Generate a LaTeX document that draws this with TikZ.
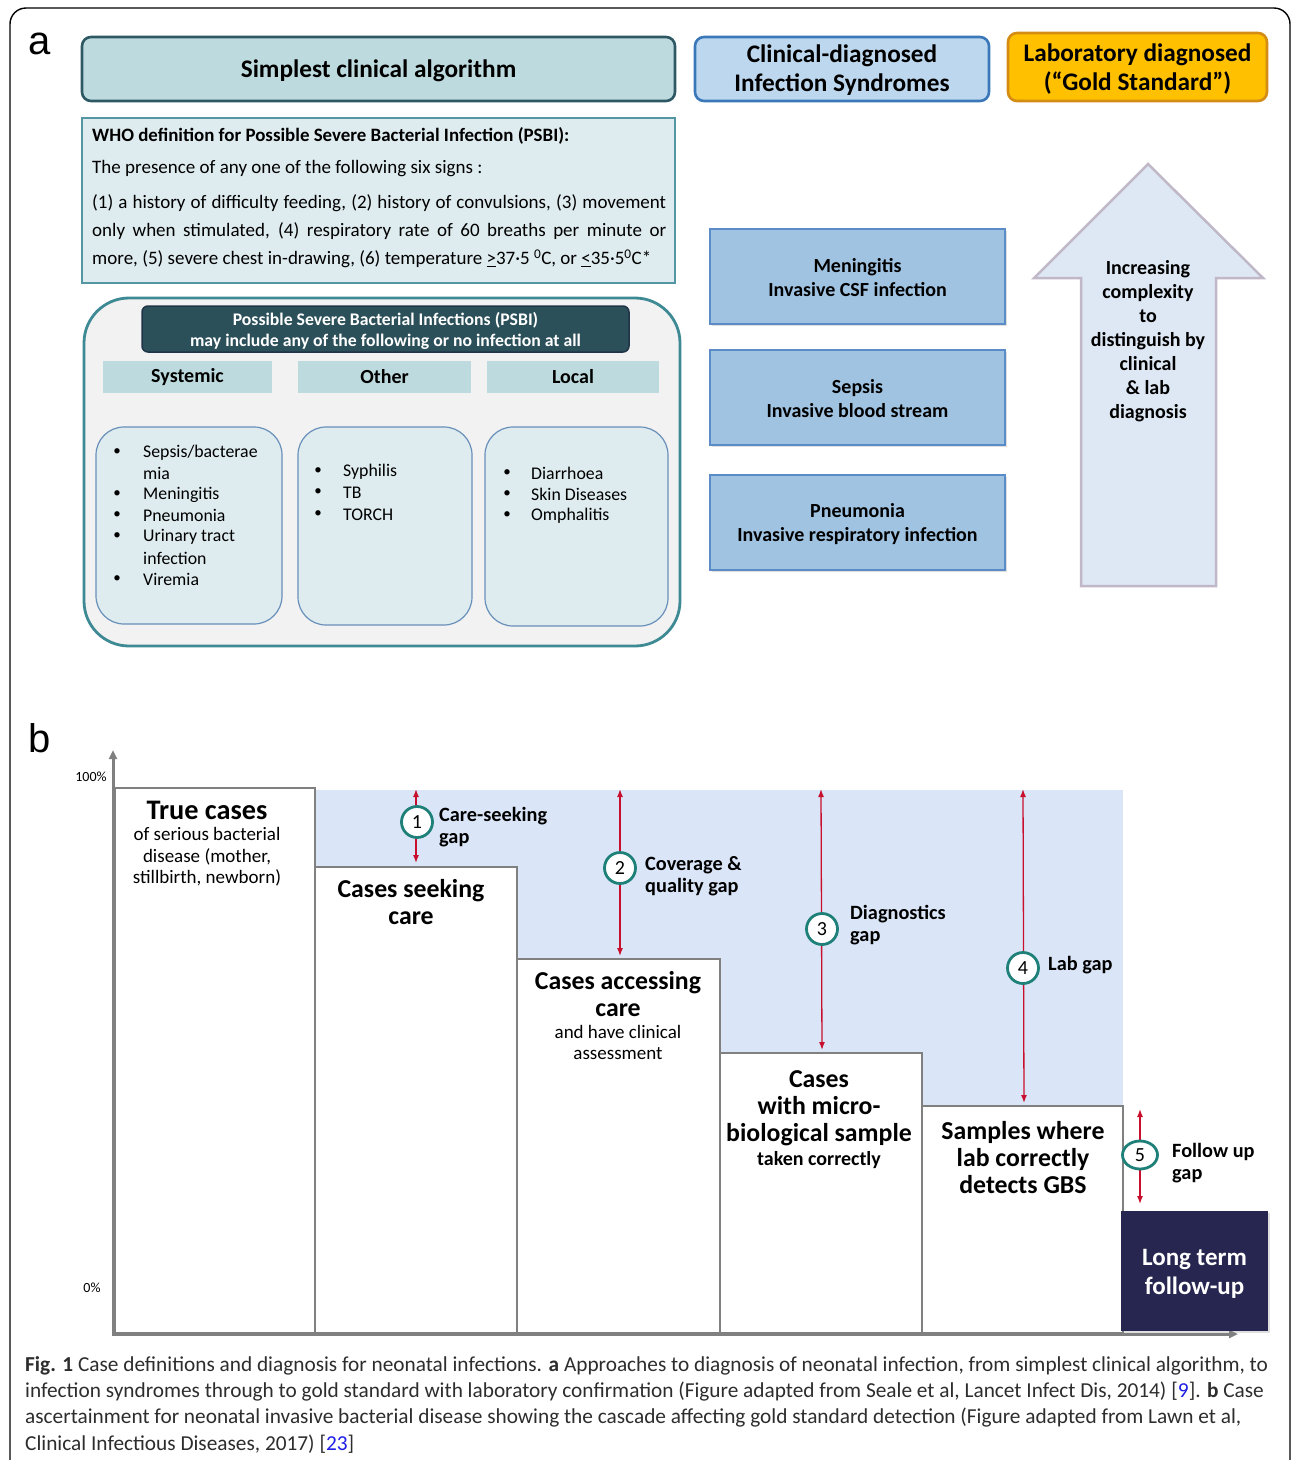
\documentclass[tikz,border=0pt]{standalone}
\usepackage{fontspec}
\setmainfont{Carlito}
\newfontfamily\arialf{Liberation Sans}
\usetikzlibrary{arrows.meta,shapes.geometric,shadows}
\definecolor{teallight}{RGB}{189,219,222}
\definecolor{tealdark}{RGB}{46,88,100}
\definecolor{whofill}{RGB}{222,235,239}
\definecolor{whoedge}{RGB}{84,150,162}
\definecolor{psbifill}{RGB}{242,242,242}
\definecolor{psbiedge}{RGB}{62,138,148}
\definecolor{darkhdr}{RGB}{44,80,90}
\definecolor{darkhdredge}{RGB}{32,52,72}
\definecolor{inneredge}{RGB}{104,144,186}
\definecolor{clinfill}{RGB}{189,215,238}
\definecolor{clinedge}{RGB}{58,120,185}
\definecolor{goldfill}{RGB}{255,192,0}
\definecolor{goldedge}{RGB}{212,140,20}
\definecolor{synfill}{RGB}{160,195,226}
\definecolor{synedge}{RGB}{92,140,200}
\definecolor{arrfill}{RGB}{222,232,244}
\definecolor{arredge}{RGB}{192,184,200}
\definecolor{bgblue}{RGB}{218,230,248}
\definecolor{bargray}{RGB}{128,128,128}
\definecolor{crimson}{RGB}{200,16,46}
\definecolor{circteal}{RGB}{30,128,120}
\definecolor{navy}{RGB}{38,38,80}
\definecolor{captext}{RGB}{45,45,45}
\definecolor{linkblue}{RGB}{30,30,230}
\tikzset{
  fs/.style 2 args={font=\fontsize{#1}{#2}\selectfont},
  fsb/.style 2 args={font=\fontsize{#1}{#2}\selectfont\bfseries},
  tx/.style={yshift=-1.5pt},
  topbox/.style={rounded corners=9pt, line width=2.6pt, inner sep=0pt, align=center, fsb={25.3}{29}},
  colhdr/.style={fill=teallight, minimum height=32pt, inner sep=0pt, fsb={20}{22}},
  innerbox/.style={draw=inneredge, line width=1.2pt, fill=whofill, rounded corners=28pt, inner sep=0pt},
  listtxt/.style={tx, anchor=west, inner sep=0pt, fs={17.8}{21}},
  bul/.style={tx, inner sep=0pt, fs={15}{21}},
  synbox/.style={draw=synedge, line width=1.5pt, fill=synfill, minimum width=295pt, minimum height=95pt, inner sep=0pt},
  syntxt/.style={tx, inner sep=0pt, align=center, fsb={20}{24}},
  barbox/.style={draw=bargray, line width=2.6pt, fill=white},
  bartitle/.style={tx, inner sep=0pt, align=center, fsb={25.8}{27}},
  barsub/.style={tx, inner sep=0pt, align=center, fs={19}{21.5}},
  gaparrow/.style={draw=crimson, line width=1.3pt, {Latex[length=8pt,width=6pt]}-{Latex[length=8pt,width=6pt]}},
  gapnum/.style={circle, draw=circteal, line width=2.8pt, fill=white, minimum size=31pt, inner sep=0pt, fs={20}{20}},
  gaplabel/.style={tx, anchor=west, inner sep=0pt, align=left, fsb={20.3}{22}},
  axis/.style={draw=bargray, line width=3pt, -{Triangle[length=9pt,width=8pt]}},
  captxt/.style={tx, anchor=west, inner sep=0pt, text=captext, fs={21.3}{24}},
  whotxt/.style={tx, anchor=west, inner sep=0pt, fs={19}{22}},
}
\begin{document}
\begin{tikzpicture}[x=1pt,y=-1pt]
\clip (0,0) rectangle (1292,1460);
\fill[white] (0,0) rectangle (1292,1460);
\draw[line width=1.4pt, rounded corners=16pt] (10,1520) -- (10,8) -- (1290,8) -- (1290,1520);

% ---------------- panel a ----------------
\node[inner sep=0pt, font=\arialf\fontsize{40}{40}\selectfont] (la) at (40,44) {a};

\node[topbox, draw=tealdark, fill=teallight, minimum width=593pt, minimum height=64pt] (simplest) at (378.5,69) {};
\node[topbox, tx] (simplestt) at (simplest) {Simplest clinical algorithm};
\node[topbox, draw=clinedge, fill=clinfill, minimum width=294pt, minimum height=64pt] (clinical) at (842,69) {};
\node[topbox, tx] (clinicalt) at (clinical) {Clinical-diagnosed\\Infection Syndromes};
\node[topbox, draw=goldedge, fill=goldfill, minimum width=259pt, minimum height=68pt] (lab) at (1137.5,67) {};
\node[topbox, tx] (labt) at (1137.5,68) {Laboratory diagnosed\\(“Gold Standard”)};

% WHO definition box
\node[draw=whoedge, line width=2pt, fill=whofill, minimum width=593pt, minimum height=165pt, inner sep=0pt] (who) at (378.5,200.5) {};
\node[whotxt, fsb={18.9}{22}] (whot) at (92,134) {WHO definition for Possible Severe Bacterial Infection (PSBI):};
\node[whotxt] (whop) at (92,167) {The presence of any one of the following six signs :};
\node[whotxt] (whol1) at (92,202) {\makebox[574pt][s]{(1) a history of difficulty feeding, (2) history of convulsions, (3) movement}};
\node[whotxt] (whol2) at (92,230) {\makebox[574pt][s]{only when stimulated, (4) respiratory rate of 60 breaths per minute or}};
\node[whotxt] (whol3) at (92,257) {more, (5) severe chest in-drawing, (6) temperature \underline{>}37·5 \textsuperscript{0}C, or \underline{<}35·5\textsuperscript{0}C*};

% PSBI container
\node[draw=psbiedge, line width=2.8pt, fill=psbifill, rounded corners=45pt, minimum width=596pt, minimum height=348pt, inner sep=0pt] (psbi) at (382,472) {};
\node[draw=darkhdredge, line width=1.5pt, fill=darkhdr, rounded corners=6pt, minimum width=487pt, minimum height=46pt, inner sep=0pt] (psbihdr) at (385.5,329) {};
\node[tx, inner sep=0pt, text=white, align=center, fsb={17.7}{21}] (psbihdrt) at (psbihdr) {Possible Severe Bacterial Infections (PSBI)\\may include any of the following or no infection at all};
\node[colhdr, minimum width=169pt] (sys) at (187.5,377) {Systemic};
\node[colhdr, minimum width=173pt] (oth) at (384.5,377) {Other};
\node[colhdr, minimum width=172pt] (loc) at (573,377) {Local};
\node[innerbox, minimum width=186pt, minimum height=197pt] (sysbox) at (189,525.5) {};
\node[innerbox, minimum width=174pt, minimum height=198pt] (othbox) at (385,526) {};
\node[innerbox, minimum width=183pt, minimum height=199pt] (locbox) at (576.5,526.5) {};

\foreach \y/\t [count=\i] in {451/Sepsis\slash bacterae, 472/mia, 493/Meningitis, 514/Pneumonia, 535/Urinary tract, 557/infection, 578/Viremia}
  \node[listtxt] (syst\i) at (143,\y) {\t};
\foreach \y [count=\i] in {451,493,514,535,578}
  \node[bul] (sysb\i) at (117,\y) {\textbullet};
\foreach \y/\t [count=\i] in {470/Syphilis, 491/TB, 513/TORCH}
  {\node[listtxt] (otht\i) at (343,\y) {\t};
   \node[bul] (othb\i) at (318,\y) {\textbullet};}
\foreach \y/\t [count=\i] in {472/Diarrhoea, 493/Skin Diseases, 514/Omphalitis}
  {\node[listtxt] (loct\i) at (531,\y) {\t};
   \node[bul] (locb\i) at (507,\y) {\textbullet};}

% syndromes
\node[synbox, drop shadow={shadow xshift=2pt, shadow yshift=-2pt, opacity=0.25}] (men) at (857.5,276.5) {};
\node[syntxt] (ment) at (men) {Meningitis\\Invasive CSF infection};
\node[synbox, drop shadow={shadow xshift=2pt, shadow yshift=-2pt, opacity=0.25}] (sep) at (857.5,397.5) {};
\node[syntxt] (sept) at (sep) {Sepsis\\Invasive blood stream};
\node[synbox, drop shadow={shadow xshift=2pt, shadow yshift=-2pt, opacity=0.25}] (pne) at (857.5,522.5) {};
\node[syntxt] (pnet) at (pne) {Pneumonia\\Invasive respiratory infection};

% big arrow
\draw[draw=arredge, line width=2.5pt, fill=arrfill, line join=miter]
  (1148,164) -- (1263,278) -- (1216,278) -- (1216,586) -- (1081,586) -- (1081,278) -- (1034,278) -- cycle;
\node[syntxt] (arrtxt) at (1148,340) {Increasing\\complexity\\to\\distinguish by\\clinical\\\& lab\\diagnosis};

% ---------------- panel b ----------------
\node[inner sep=0pt, font=\arialf\fontsize{40}{40}\selectfont] (lb) at (40,738) {b};

\fill[bgblue] (315,790) rectangle (1123,1106);

\draw[barbox] (115,788) rectangle (315,1333);
\draw[barbox] (315,867) rectangle (517,1333);
\draw[barbox] (517,959) rectangle (720,1333);
\draw[barbox] (720,1053) rectangle (922,1333);
\draw[barbox] (922,1106) rectangle (1123,1333);

\draw[axis] (113,1335) -- (113,750);
\draw[axis] (112,1334) -- (1238,1334);
\node[tx, inner sep=0pt, fs={14}{16}] (p100) at (91,775) {100\%};
\node[tx, inner sep=0pt, fs={14}{16}] (p0) at (92,1286) {0\%};

\node[bartitle, fsb={28.3}{30}] (b1t) at (207,809) {True cases};
\node[barsub] (b1s) at (207,855.5) {of serious bacterial\\disease (mother,\\stillbirth, newborn)};
\node[bartitle] (b2t) at (411,900.5) {Cases seeking\\care};
\node[bartitle] (b3t) at (618,992.5) {Cases accessing\\care};
\node[barsub] (b3s) at (618,1041) {and have clinical\\assessment};
\node[bartitle] (b4t) at (819,1107) {Cases\\with micro-\\biological sample};
\node[tx, inner sep=0pt, fsb={20}{22}] (b4s) at (819,1159) {taken correctly};
\node[bartitle] (b5t) at (1023,1156) {Samples where\\lab correctly\\detects GBS};

\node[fill=navy, minimum width=147pt, minimum height=120pt, inner sep=0pt,
  drop shadow={shadow xshift=2pt, shadow yshift=-2pt, opacity=0.25}] (lt) at (1194.5,1271) {};
\node[tx, inner sep=0pt, text=white, align=center, fsb={25}{29}] (ltt) at (1194.5,1272.5) {Long term\\follow-up};

% gaps
\coordinate (g1t) at (416,789); \coordinate (g1b) at (416,863);
\coordinate (g2t) at (620,789); \coordinate (g2b) at (620,956);
\coordinate (g3t) at (821,789); \coordinate (g3b) at (822,1050);
\coordinate (g4t) at (1023,789); \coordinate (g4b) at (1024,1103);
\coordinate (g5t) at (1140,1109); \coordinate (g5b) at (1140,1204);
\draw[gaparrow] (g1t) -- (g1b);
\draw[gaparrow] (g2t) -- (g2b);
\draw[gaparrow] (g3t) -- (g3b);
\draw[gaparrow] (g4t) -- (g4b);
\draw[gaparrow] (g5t) -- (g5b);
\node[gapnum] (n1) at (417,822) {1};
\node[gapnum] (n2) at (620,868) {2};
\node[gapnum] (n3) at (822,929) {3};
\node[gapnum] (n4) at (1023,968) {4};
\node[gapnum, ellipse, minimum width=35pt, minimum height=28pt] (n5) at (1140,1155) {5};
\node[gaplabel] (l1) at (439,826) {Care-seeking\\gap};
\node[gaplabel] (l2) at (645,875) {Coverage \&\\quality gap};
\node[gaplabel] (l3) at (850,924) {Diagnostics\\gap};
\node[gaplabel] (l4) at (1048,964) {Lab gap};
\node[gaplabel] (l5) at (1172,1162) {Follow up\\gap};

% caption
\node[captxt] (cap1) at (25,1364) {\textbf{Fig. 1} Case definitions and diagnosis for neonatal infections. \textbf{a} Approaches to diagnosis of neonatal infection, from simplest clinical algorithm, to};
\node[captxt] (cap2) at (25,1390) {infection syndromes through to gold standard with laboratory confirmation (Figure adapted from Seale et al, Lancet Infect Dis, 2014) [{\color{linkblue}9}]. \textbf{b} Case};
\node[captxt] (cap3) at (25,1416) {ascertainment for neonatal invasive bacterial disease showing the cascade affecting gold standard detection (Figure adapted from Lawn et al,};
\node[captxt] (cap4) at (25,1443) {Clinical Infectious Diseases, 2017) [{\color{linkblue}23}]};
\end{tikzpicture}
\end{document}
